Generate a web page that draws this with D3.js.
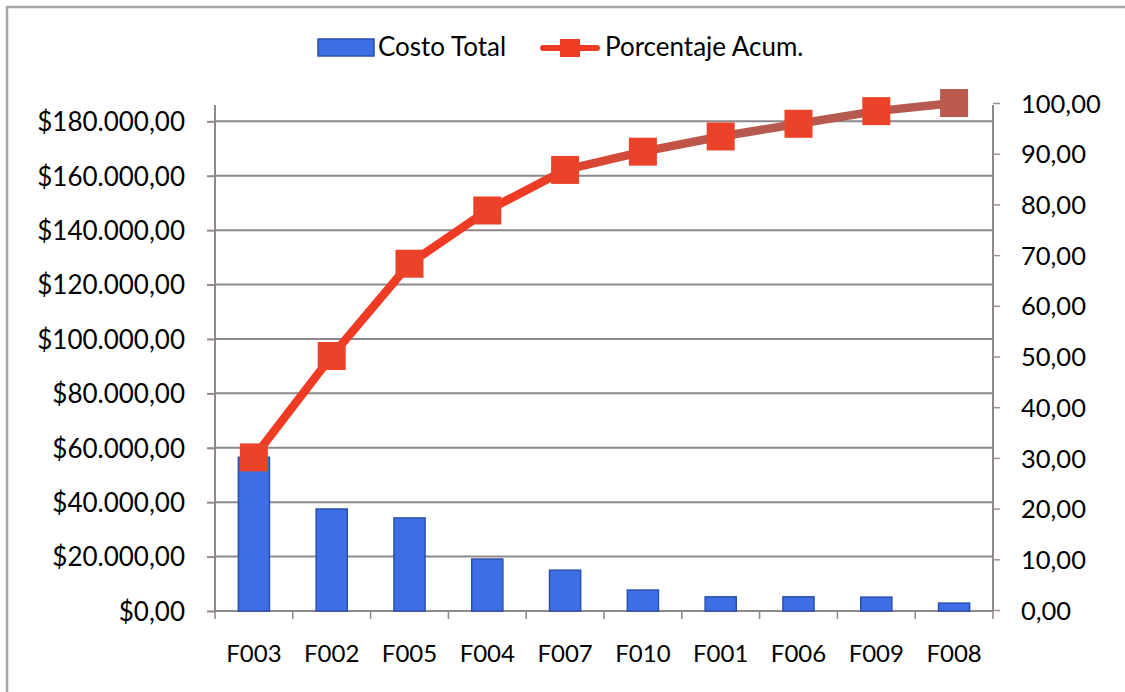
<!DOCTYPE html>
<html>
<head>
<meta charset="utf-8">
<script src="https://cdn.jsdelivr.net/npm/d3@7"></script>
<style>
  html, body { margin: 0; padding: 0; background: #fff; }
  svg { display: block; }
  text { font-family: Lato, "Open Sans", sans-serif; fill: #000; }
</style>
</head>
<body>
<svg id="chart" width="1125" height="692"></svg>
<script>
// Pareto data: cost per item and cumulative percentage
const categories = ["F003", "F002", "F005", "F004", "F007", "F010", "F001", "F006", "F009", "F008"];
const costoTotal = [56500, 37500, 34200, 19100, 15000, 7700, 5200, 5200, 5100, 2900];
const porcentajeAcum = [30.1, 50.1, 68.3, 78.8, 86.8, 90.4, 93.4, 95.9, 98.4, 100.0];
const leftTicks = [0, 20000, 40000, 60000, 80000, 100000, 120000, 140000, 160000, 180000];
const rightTicks = [0, 10, 20, 30, 40, 50, 60, 70, 80, 90, 100];

const svg = d3.select("#chart");
const plot = { left: 215, right: 993, top: 105, bottom: 611 };
const gridColor = "#8e878c";
const axisColor = "#8e878c";

// chart frame
svg.append("path")
  .attr("d", "M7,692 L7,7 L1125,7")
  .attr("fill", "none").attr("stroke", "#aaa5aa").attr("stroke-width", 2.5);

const x = d3.scaleBand().domain(categories).range([plot.left, plot.right]).paddingInner(0).paddingOuter(0);
const yLeft = d3.scaleLinear().domain([0, 186000]).range([plot.bottom, plot.top]);
const yRight = d3.scaleLinear().domain([0, 100]).range([610, 103]);

const fmtMoney = d => "$" + d3.format(",.2f")(d).replace(/,/g, "#").replace(".", ",").replace(/#/g, ".");
const fmtPct = d => d3.format(".2f")(d).replace(".", ",");

// gridlines
svg.append("g").selectAll("line")
  .data(leftTicks.filter(d => d > 0))
  .join("line")
  .attr("x1", plot.left).attr("x2", plot.right)
  .attr("y1", d => yLeft(d)).attr("y2", d => yLeft(d))
  .attr("stroke", gridColor).attr("stroke-width", 2);

// left axis
const gL = svg.append("g").attr("transform", `translate(${plot.left},0)`)
  .call(d3.axisLeft(yLeft).tickValues(leftTicks).tickFormat(fmtMoney).tickSize(8).tickPadding(22));
gL.select(".domain").attr("stroke", axisColor).attr("stroke-width", 2).attr("d", `M0,${plot.top}V${plot.bottom}`);
gL.selectAll(".tick line").attr("stroke", axisColor).attr("stroke-width", 2);
gL.selectAll(".tick text").style("font-size", "26px").attr("fill", "#000").attr("dy", "0.36em");

// right axis
const gR = svg.append("g").attr("transform", `translate(${plot.right},0)`)
  .call(d3.axisRight(yRight).tickValues(rightTicks).tickFormat(fmtPct).tickSize(7).tickPadding(21));
gR.select(".domain").attr("stroke", axisColor).attr("stroke-width", 2).attr("d", `M0,${plot.top}V${plot.bottom}`);
gR.selectAll(".tick line").attr("stroke", "#9a9297").attr("stroke-width", 1.5);
gR.selectAll(".tick text").style("font-size", "25.5px").attr("fill", "#000").attr("dy", "0.36em");

// bottom axis
const gB = svg.append("g").attr("transform", `translate(0,${plot.bottom})`)
  .call(d3.axisBottom(x).tickSize(0).tickPadding(34));
gB.select(".domain").attr("stroke", axisColor).attr("stroke-width", 2).attr("d", `M${plot.left},0H${plot.right}`);
gB.selectAll(".tick text").style("font-size", "24px").attr("fill", "#000");
gB.selectAll("line.sep")
  .data(categories.map((c, i) => i).concat([categories.length]))
  .join("line").attr("class", "sep")
  .attr("x1", i => plot.left + i * x.bandwidth()).attr("x2", i => plot.left + i * x.bandwidth())
  .attr("y1", 0).attr("y2", 8)
  .attr("stroke", axisColor).attr("stroke-width", 1.5);

// bars
const barW = x.bandwidth() * 0.4;
svg.append("g").selectAll("rect")
  .data(categories)
  .join("rect")
  .attr("x", (d) => x(d) + (x.bandwidth() - barW) / 2)
  .attr("y", (d, i) => yLeft(costoTotal[i]))
  .attr("width", barW)
  .attr("height", (d, i) => yLeft(0) - yLeft(costoTotal[i]))
  .attr("fill", "#3d6ee3")
  .attr("stroke", "#2a4fae").attr("stroke-width", 1.5);

// line color fades from bright red to a muted red-brown along the curve
const defs = svg.append("defs");
const grad = defs.append("linearGradient").attr("id", "lineGrad")
  .attr("gradientUnits", "userSpaceOnUse")
  .attr("x1", 520).attr("x2", 720).attr("y1", 0).attr("y2", 0);
grad.append("stop").attr("offset", 0).attr("stop-color", "#ef3b23");
grad.append("stop").attr("offset", 1).attr("stop-color", "#b65a4f");

const pts = categories.map((c, i) => [x(c) + x.bandwidth() / 2, yRight(porcentajeAcum[i])]);
svg.append("path")
  .attr("d", d3.line()(pts))
  .attr("fill", "none")
  .attr("stroke", "url(#lineGrad)")
  .attr("stroke-width", 8.5)
  .attr("stroke-linejoin", "round");

const mk = 28;
svg.append("g").selectAll("rect")
  .data(pts)
  .join("rect")
  .attr("x", d => d[0] - mk / 2).attr("y", d => d[1] - mk / 2)
  .attr("width", mk).attr("height", mk)
  .attr("fill", (d, i) => i === pts.length - 1 ? "#bb5a4e" : "#ea432a");

// legend
const lg = svg.append("g");
lg.append("rect").attr("x", 318).attr("y", 39).attr("width", 56).attr("height", 17)
  .attr("fill", "#3d6ee3").attr("stroke", "#2a4fae").attr("stroke-width", 1.5);
lg.append("text").attr("x", 378).attr("y", 56).style("font-size", "26px").text("Costo Total");
lg.append("line").attr("x1", 543).attr("x2", 597).attr("y1", 48).attr("y2", 48)
  .attr("stroke", "#ef3b23").attr("stroke-width", 6).attr("stroke-linecap", "round");
lg.append("rect").attr("x", 560).attr("y", 39).attr("width", 20).attr("height", 18).attr("fill", "#ef3b23");
lg.append("text").attr("x", 605).attr("y", 56).style("font-size", "26px").text("Porcentaje Acum.");
</script>
</body>
</html>
